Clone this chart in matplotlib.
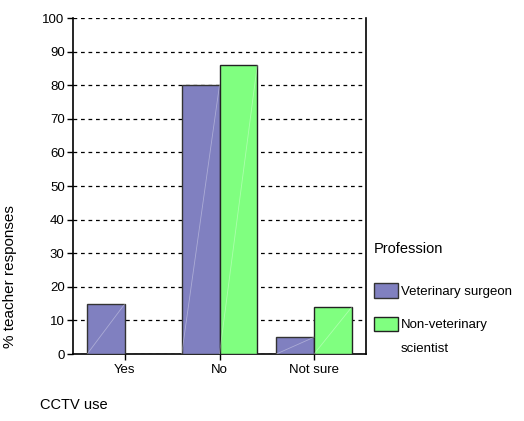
import matplotlib
matplotlib.use("Agg")
import matplotlib.pyplot as plt
import numpy as np

plt.rcParams['font.family'] = ['Liberation Sans', 'DejaVu Sans']

categories = ['Yes', 'No', 'Not sure']
vet_surgeon = [15, 80, 5]
non_vet_scientist = [0, 86, 14]

fig = plt.figure(figsize=(5.24, 4.21), dpi=100)
ax = fig.add_axes([0.1393, 0.1591, 0.5592, 0.7981])

x = np.arange(len(categories))
w = 0.40
b1 = ax.bar(x - w / 2, vet_surgeon, w, color='#8080C0', edgecolor='#333333',
            linewidth=1, label='Veterinary surgeon', zorder=3)
b2 = ax.bar(x + w / 2, non_vet_scientist, w, color='#80FF80', edgecolor='#222222',
            linewidth=1, label='Non-veterinary', zorder=3)

# faint diagonal streaks seen inside each bar
for bars in (b1, b2):
    for r in bars:
        if r.get_height() > 0:
            ax.plot([r.get_x(), r.get_x() + r.get_width()], [0, r.get_height()],
                    color='white', alpha=0.35, linewidth=0.6, zorder=4)

ax.set_xlim(-0.55, 2.55)
ax.set_ylim(0, 100)
ax.set_yticks(np.arange(0, 101, 10))
ax.set_xticks(x)
ax.set_xticklabels(categories, fontsize=9.5)
ax.tick_params(axis='y', labelsize=9.5, length=4, width=1, direction='out', pad=2)
ax.tick_params(axis='x', length=4, width=1, direction='out', pad=3)
ax.yaxis.grid(True, linestyle=(0, (3, 3)), color='black', linewidth=0.9, zorder=0)
ax.set_axisbelow(True)

for s in ['left', 'bottom', 'right']:
    ax.spines[s].set_linewidth(1.2)
ax.spines['top'].set_visible(False)

ax.set_ylabel('% teacher responses', fontsize=11)
ax.yaxis.set_label_coords(-0.19, 0.23)
fig.text(40 / 524, 1 - 405 / 421, 'CCTV use', fontsize=10.5, va='center', ha='left')

leg = ax.legend(loc='upper left', bbox_to_anchor=(1.01, 0.35), frameon=False,
                title='Profession', fontsize=9.5, title_fontsize=10.5,
                handlelength=1.8, handleheight=1.3, labelspacing=1.4,
                handletextpad=0.2, borderaxespad=0)
leg._legend_box.align = 'left'
leg._legend_box.sep = 20
fig.text(401 / 524, 1 - 349 / 421, 'scientist', fontsize=9.5, va='center', ha='left')

fig.savefig('out.png', dpi=100)
